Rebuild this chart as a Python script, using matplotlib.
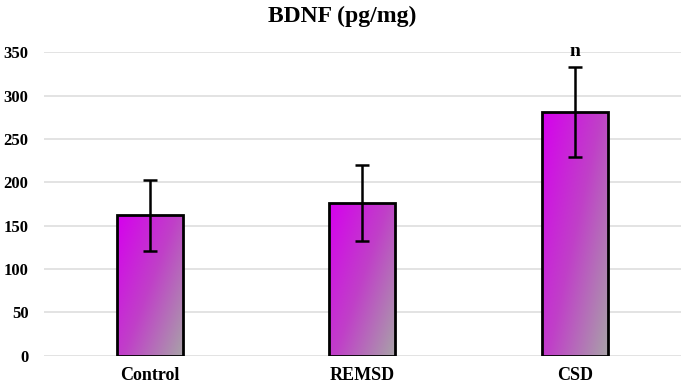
import numpy as np
import matplotlib
matplotlib.use("Agg")
from matplotlib import pyplot as plt
from matplotlib.patches import Rectangle
from matplotlib.colors import LinearSegmentedColormap

# BDNF-pitoisuudet ryhmittäin
groups = ["Control", "REMSD", "CSD"]
means = [162, 176, 281]
errors = [41, 44, 52]
marks = ["", "", "n"]

plt.rcParams["font.family"] = ["Liberation Serif", "DejaVu Serif"]
plt.rcParams["font.weight"] = "bold"

fig = plt.figure(figsize=(6.85, 3.86), dpi=100)
ax = fig.add_axes([0.064, 0.078, 0.93, 0.787])

x = np.arange(len(groups))
width = 0.31

# liukuväri: vasen yläkulma magenta, oikea alakulma harmaa
cmap = LinearSegmentedColormap.from_list("bar", ["#d600ee", "#c040c8", "#a8a2a8"])
gx, gy = np.meshgrid(np.linspace(0, 1, 100), np.linspace(0, 1, 100))
grad = (gx * 0.55 + gy * 0.45)

for xi, m in zip(x, means):
    left = xi - width / 2
    rect = Rectangle((left, 0), width, m, facecolor="none", edgecolor="black",
                     linewidth=2, zorder=3)
    ax.add_patch(rect)
    im = ax.imshow(grad, cmap=cmap, extent=(left, left + width, 0, m),
                   aspect="auto", origin="upper", zorder=2)
    im.set_clip_path(rect)

ax.errorbar(x, means, yerr=errors, fmt="none", ecolor="black", elinewidth=1.8,
            capsize=5, capthick=1.8, zorder=4)

for xi, m, e, t in zip(x, means, errors, marks):
    if t:
        ax.text(xi, m + e + 8, t, ha="center", va="bottom", fontsize=14,
                fontweight="bold", clip_on=False)

ax.set_xlim(-0.5, 2.5)
ax.set_ylim(0, 350)
ax.set_yticks(range(0, 351, 50))
ax.set_xticks(x)
ax.set_xticklabels(groups)
ax.grid(axis="y", color="#dedede", linewidth=1.2, zorder=0)
ax.set_axisbelow(True)
for s in ax.spines.values():
    s.set_visible(False)
ax.tick_params(axis="y", length=0, labelsize=12, pad=11)
ax.tick_params(axis="x", length=0, labelsize=13, pad=8)
for lab in ax.get_xticklabels() + ax.get_yticklabels():
    lab.set_fontweight("bold")

fig.text(0.5, 0.958, "BDNF (pg/mg)", ha="center", va="center",
         fontsize=17, fontweight="bold")

fig.savefig("out.png", dpi=100)
